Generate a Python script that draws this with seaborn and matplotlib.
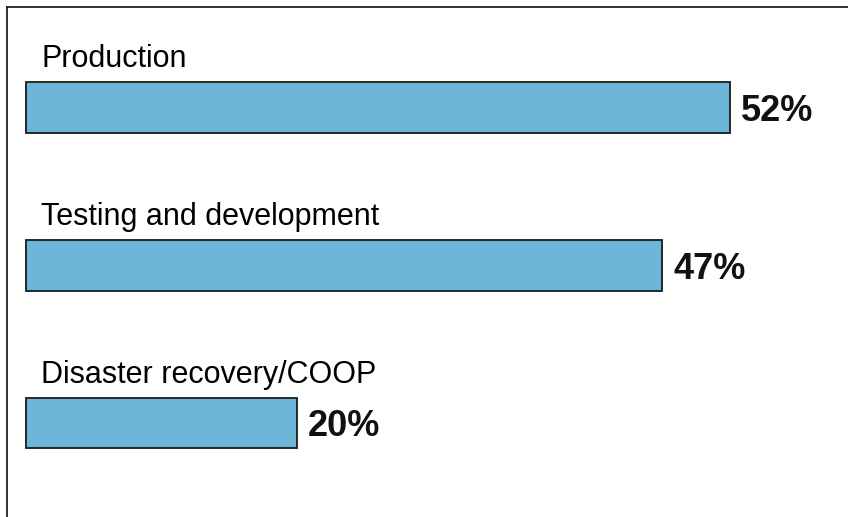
import pandas as pd
import matplotlib.pyplot as plt
import seaborn as sns

sns.set_theme(style="white")
plt.rcParams['font.family'] = ['Liberation Sans', 'DejaVu Sans']

categories = ["Production", "Testing and development", "Disaster recovery/COOP"]
values = [52, 47, 20]

data = pd.DataFrame({"category": categories, "value": values})

W, H = 848, 517
fig = plt.figure(figsize=(W / 100, H / 100), dpi=100)
# axes start at the frame line (7px from left/top) and run past the right/bottom edges
ax = fig.add_axes([7 / W, 0, 1, 1 - 7 / H])

sns.barplot(data=data, x="value", y="category", orient="h", color="#6CB6DA",
            width=0.323, edgecolor="#1a1a1a", linewidth=1.3, saturation=1, ax=ax)

px_per_unit = 13.54
ax.set_xlim(-19 / px_per_unit, -19 / px_per_unit + W / px_per_unit)
row = 157.75
ax.set_ylim(-0.637 + 510 / row, -0.637)

for i, (cat, val) in enumerate(zip(categories, values)):
    ax.annotate(cat, xy=(0, i - 0.323 / 2), xytext=(15, 15), textcoords="offset pixels",
                ha="left", va="baseline", fontsize=22, color="black")
    ax.annotate(f"{val}%", xy=(val, i), xytext=(11, 0), textcoords="offset pixels",
                ha="left", va="center_baseline", fontsize=26, fontweight="bold", color="#111111")

ax.set_xlabel("")
ax.set_ylabel("")
ax.set_xticks([])
ax.set_yticks([])
for side in ["right", "bottom"]:
    ax.spines[side].set_visible(False)
for side in ["left", "top"]:
    ax.spines[side].set_color("#222222")
    ax.spines[side].set_linewidth(1.3)

fig.savefig("out.png", dpi=100)
